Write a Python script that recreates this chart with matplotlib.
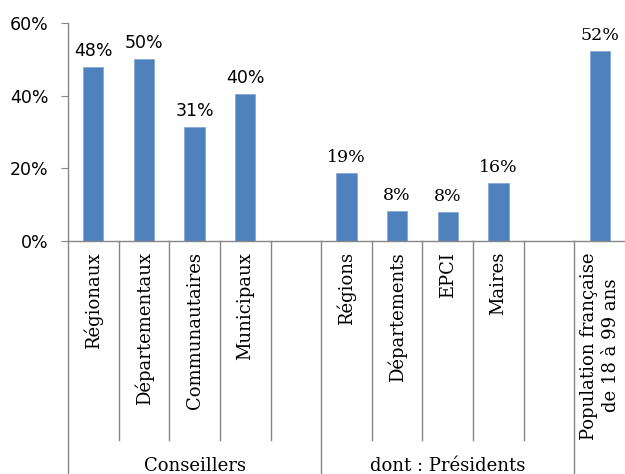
import numpy as np
import matplotlib
matplotlib.use("Agg")
import matplotlib.pyplot as plt

# données
categories = ["Régionaux", "Départementaux", "Communautaires", "Municipaux", "",
              "Régions", "Départements", "EPCI", "Maires", "",
              "Population française\nde 18 à 99 ans"]
valeurs = [47.8, 50.2, 31.4, 40.4, np.nan, 18.7, 8.2, 7.9, 16.0, np.nan, 52.4]
groupes = ["Conseillers", "dont : Présidents"]
groupes_debut = [0, 5]
groupes_fin = [4, 9]
yticks = [0, 20, 40, 60]

bleu = "#4F81BD"
gris = "#868686"

W, H = 625, 474
fig = plt.figure(figsize=(W / 100, H / 100), dpi=100)
ax = fig.add_axes([68 / W, (H - 241) / H, 557 / W, 218 / H])

x = np.arange(len(categories))
ax.bar(x, valeurs, width=0.4, color=bleu, edgecolor="#7FA3D3", linewidth=0.5)

# étiquettes des valeurs
for i, v in enumerate(valeurs):
    if np.isnan(v):
        continue
    fam = "DejaVu Sans" if i < 4 else "DejaVu Serif"
    ax.annotate(f"{v:.0f}%", (i, v), xytext=(0, 5), textcoords="offset points",
                ha="center", va="bottom", fontsize=12.5, family=fam, color="black")

ax.set_xlim(-0.5, len(categories) - 0.5)
ax.set_ylim(0, 60)
ax.set_yticks(yticks)
ax.set_yticklabels([f"{t}%" for t in yticks], fontsize=12.5, family="DejaVu Sans")
ax.tick_params(axis="y", direction="out", length=5, color=gris, pad=9)
ax.set_xticks([])

for s in ["top", "right"]:
    ax.spines[s].set_visible(False)
ax.spines["left"].set_color(gris)
ax.spines["bottom"].set_color(gris)
ax.spines["left"].set_linewidth(1)
ax.spines["bottom"].set_linewidth(1)

# coordonnées mixtes : x en données, y en axes
trans = ax.get_xaxis_transform()
px = 1 / 218  # un pixel en fraction de hauteur d'axe
court = -(440 - 241) * px
long_ = -(H - 241) * px

bords_longs = [groupes_debut[0] - 0.5, groupes_fin[0] + 0.5, groupes_fin[1] + 0.5]
for b in np.arange(len(categories)) - 0.5:
    y0 = long_ if any(abs(b - bl) < 1e-6 for bl in bords_longs) else court
    ax.plot([b, b], [0, y0], transform=trans, color=gris, lw=1, clip_on=False)

# étiquettes des catégories
for i, c in enumerate(categories):
    if not c:
        continue
    ax.text(i, -11 * px, c, transform=trans, rotation=90, ha="center", va="top",
            fontsize=13, family="DejaVu Serif", multialignment="center",
            linespacing=1.3)

# étiquettes des groupes
for g, d, f in zip(groupes, groupes_debut, groupes_fin):
    ax.text((d + f) / 2, -(466 - 241) * px, g, transform=trans, ha="center",
            va="center", fontsize=13, family="DejaVu Serif")

fig.savefig("out.png", dpi=100)
